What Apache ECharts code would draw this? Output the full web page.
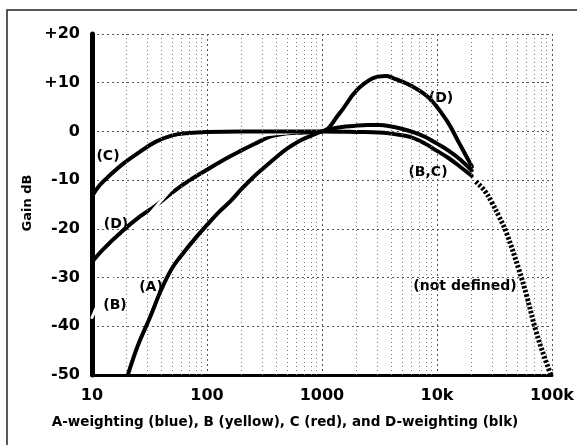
<!DOCTYPE html>
<html>
<head>
<meta charset="utf-8">
<script src="https://cdn.jsdelivr.net/npm/echarts@6/dist/echarts.min.js"></script>
<style>
  html, body { margin: 0; padding: 0; background: #fff; }
  #chart { width: 577px; height: 445px; }
</style>
</head>
<body>
<div id="chart"></div>
<script>
// x ticks (Hz) and their printed labels
const xTicks = [10, 100, 1000, 10000, 100000];
const xTickLabels = ["10", "100", "1000", "10k", "100k"];

// curves: [frequency Hz, gain dB]
const aWeight = [
  [20.5, -50], [25, -44], [31.5, -38.5], [40, -32.5], [50, -28], [63, -24.8],
  [80, -21.8], [100, -19.2], [125, -16.7], [160, -14.3], [200, -11.8],
  [250, -9.5], [315, -7.4], [400, -5.3], [500, -3.5], [630, -2.0], [800, -0.9],
  [1000, 0], [1250, 0.6], [1600, 1.0], [2000, 1.2], [2500, 1.3], [3150, 1.3],
  [4000, 1.0], [5000, 0.5], [6300, -0.2], [8000, -1.2], [10000, -2.5],
  [12500, -3.9], [16000, -5.8], [20000, -8.0]
];
// B was yellow on the original and vanished in the scan
const bWeight = [
  [10, -38.2], [12.5, -33.2], [16, -28.5], [20, -24.2], [25, -20.4],
  [31.5, -17.1], [40, -14.2], [50, -11.6], [63, -9.3], [80, -7.4], [100, -5.6],
  [125, -4.2], [160, -3.0], [200, -2.0], [250, -1.3], [315, -0.8], [400, -0.5],
  [500, -0.3], [630, -0.1], [800, 0], [1000, 0]
];
const cWeight = [
  [10, -13.3], [11.7, -11.0], [14.3, -9.0], [18.7, -6.6], [26, -4.2],
  [36, -2.1], [50, -0.8], [70, -0.3], [100, -0.1], [200, 0], [500, 0],
  [1000, 0], [2000, -0.1], [3150, -0.2], [5000, -0.8], [6300, -1.4],
  [8000, -2.6], [10000, -4.0], [12500, -5.4], [16000, -7.3], [20000, -9.1]
];
const dWeight = [
  [10, -26.8], [12.5, -24.2], [18.7, -20.3], [26, -17.5], [36.4, -15.1],
  [50.7, -12.4], [70.8, -10.0], [99, -7.9], [138, -5.9], [192, -4.1],
  [268, -2.4], [350, -1.1], [500, -0.4], [700, -0.2], [1000, 0],
  [1420, 3.7], [1980, 8.3], [2760, 10.9], [3600, 11.4], [4100, 11.0],
  [6140, 9.2], [8600, 6.8], [12100, 2.3], [15600, -2.4], [20100, -7.2]
];
const notDefined = [
  [21800, -10.3], [26000, -12.2], [30000, -14.6], [34700, -17.5],
  [40000, -20.7], [51800, -28.5], [60000, -33.6], [72200, -40.8],
  [85000, -46.0], [98000, -50]
];

const font = "DejaVu Sans";
const ink = "#000";

// dotted grid at 2..9 of every decade
let minorGrid = [];
for (let d = 10; d < 100000; d *= 10) {
  for (let k = 2; k <= 9; k++) minorGrid.push({ xAxis: d * k });
}

let chart = echarts.init(document.getElementById("chart"));

let curve = (name, data, z, color, width, type, cap) => ({
  name: name,
  type: "line",
  data: data,
  z: z,
  smooth: 0.4,
  symbol: "none",
  silent: true,
  clip: true,
  lineStyle: { color: color, width: width, type: type || "solid", cap: cap || "round" },
});

let label = (text, x, y) => ({
  type: "text",
  x: x,
  y: y,
  style: {
    text: text,
    fill: ink,
    font: "bold 14px " + font,
    textAlign: "center",
    textVerticalAlign: "middle",
  },
});

let options = {
  animation: false,
  backgroundColor: "#fff",
  grid: { left: 92, right: 24, top: 34, bottom: 70 },
  xAxis: {
    type: "log",
    logBase: 10,
    min: 10,
    max: 100000,
    axisLine: { onZero: false, lineStyle: { color: ink, width: 3 } },
    axisTick: { show: false },
    axisLabel: {
      color: ink,
      fontFamily: font,
      fontWeight: "bold",
      fontSize: 16,
      margin: 13,
      formatter: (v) => xTickLabels[xTicks.indexOf(Math.round(v))] || "",
    },
    splitLine: {
      show: true,
      lineStyle: { color: "#555", width: 1, type: [2, 3] },
    },
  },
  yAxis: {
    type: "value",
    min: -50,
    max: 20,
    interval: 10,
    axisLine: { show: true, lineStyle: { color: ink, width: 5 } },
    axisTick: { show: false },
    axisLabel: {
      color: ink,
      fontFamily: font,
      fontWeight: "bold",
      fontSize: 16,
      margin: 12,
      formatter: (v) => (v > 0 ? "+" + v : "" + v),
    },
    splitLine: {
      show: true,
      lineStyle: { color: "#555", width: 1, type: [2, 3] },
    },
  },
  series: [
    {
      name: "grid",
      type: "line",
      data: [],
      z: 1,
      silent: true,
      markLine: {
        silent: true,
        symbol: "none",
        label: { show: false },
        lineStyle: { color: "#777", width: 1, type: [1, 3] },
        data: minorGrid,
      },
    },
    curve("D", dWeight, 2, ink, 4),
    curve("B", bWeight, 3, "#fff", 3),
    curve("C", cWeight, 4, ink, 4),
    curve("A", aWeight, 5, ink, 4),
    curve("not defined", notDefined, 5, ink, 5, [2.5, 1.8], "butt"),
  ],
  graphic: [
    {
      type: "rect",
      shape: { x: 7, y: 10, width: 600, height: 460 },
      style: { fill: "none", stroke: "#222", lineWidth: 1.5 },
      silent: true,
    },
    {
      type: "text",
      x: 28,
      y: 203,
      rotation: Math.PI / 2,
      style: {
        text: "Gain dB",
        fill: ink,
        font: "bold 13px " + font,
        textAlign: "center",
        textVerticalAlign: "middle",
      },
    },
    {
      type: "text",
      x: 285,
      y: 422,
      style: {
        text: "A-weighting (blue), B (yellow), C (red), and D-weighting (blk)",
        fill: ink,
        font: "bold 13.5px " + font,
        textAlign: "center",
        textVerticalAlign: "middle",
      },
    },
    label("(C)", 108, 156),
    label("(D)", 116, 224),
    label("(B)", 115, 305),
    label("(A)", 151, 287),
    label("(D)", 441, 98),
    label("(B,C)", 428, 172),
    label("(not defined)", 465, 286),
  ],
};

chart.setOption(options);
</script>
</body>
</html>
